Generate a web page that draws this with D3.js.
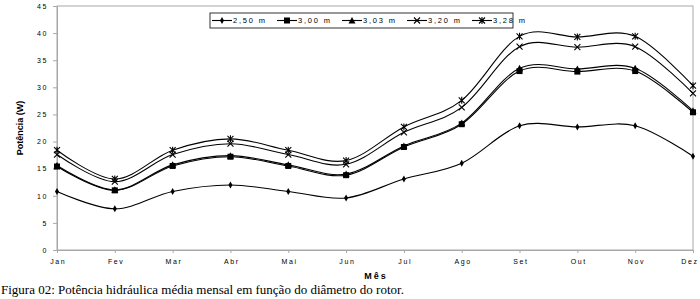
<!DOCTYPE html>
<html>
<head>
<meta charset="utf-8">
<script src="https://cdn.jsdelivr.net/npm/d3@7"></script>
<style>
  body { margin: 0; background: #fff; }
  svg { display: block; }
  .sans { font-family: "Liberation Sans", Arial, sans-serif; }
  .serif { font-family: "Liberation Serif", "Times New Roman", serif; }
</style>
</head>
<body>
<svg id="chart" width="700" height="299"></svg>
<script>
var months = ["Jan", "Fev", "Mar", "Abr", "Mai", "Jun", "Jul", "Ago", "Set", "Out", "Nov", "Dez"];
var seriesNames = ["2,50 m", "3,00 m", "3,03 m", "3,20 m", "3,28 m"];
var markers = ["diamond", "square", "triangle", "cross", "star"];

var d250 = [10.8, 7.6, 10.8, 12.0, 10.8, 9.6, 13.1, 16.0, 22.9, 22.7, 22.9, 17.3];
var d300 = [15.4, 11.0, 15.5, 17.2, 15.5, 13.8, 19.0, 23.2, 33.0, 32.9, 33.0, 25.4];
var d303 = [15.6, 11.1, 15.7, 17.4, 15.7, 14.0, 19.2, 23.4, 33.5, 33.4, 33.5, 25.7];
var d320 = [17.6, 12.6, 17.6, 19.6, 17.6, 15.8, 21.7, 26.3, 37.5, 37.4, 37.5, 28.9];
var d328 = [18.4, 13.1, 18.4, 20.5, 18.4, 16.5, 22.7, 27.6, 39.4, 39.3, 39.4, 30.3];
var yTicks = [0, 5, 10, 15, 20, 25, 30, 35, 40, 45];

var allSeries = [d250, d300, d303, d320, d328];

var margin = { top: 6, right: 7, bottom: 49, left: 57 },
    width = 700 - margin.left - margin.right,
    height = 299 - margin.top - margin.bottom;

var svg = d3.select("#chart");
var g = svg.append("g")
    .attr("transform", "translate(" + margin.left + "," + margin.top + ")");

var x = d3.scalePoint().domain(months).range([0, width]);
var y = d3.scaleLinear().domain([0, 45]).range([height, 0]);

// plot frame
g.append("rect")
    .attr("x", 0).attr("y", 0)
    .attr("width", width).attr("height", height)
    .attr("fill", "none")
    .attr("stroke", "#a8a8a8")
    .attr("stroke-width", 1);

// Y axis
var yAxis = g.append("g")
    .call(d3.axisLeft(y).tickValues(yTicks).tickSize(4).tickPadding(5).tickFormat(d3.format("d")));
yAxis.attr("font-family", null).attr("font-size", null);
yAxis.select(".domain").attr("stroke", "#a8a8a8");
yAxis.selectAll(".tick line").attr("stroke", "#a8a8a8");
yAxis.selectAll("text")
    .attr("class", "sans")
    .style("font-size", "7px")
    .style("letter-spacing", "1.6px")
    .attr("fill", "#000");

// X axis
var xAxis = g.append("g")
    .attr("transform", "translate(0," + height + ")")
    .call(d3.axisBottom(x).tickSize(3).tickPadding(6));
xAxis.attr("font-family", null).attr("font-size", null);
xAxis.select(".domain").attr("stroke", "#a8a8a8");
xAxis.selectAll(".tick line").attr("stroke", "#a8a8a8");
xAxis.selectAll("text")
    .attr("class", "sans")
    .attr("dx", "0.8px")
    .style("font-size", "7px")
    .style("letter-spacing", "1.6px")
    .attr("fill", "#000");
// last label kept inside the picture
xAxis.selectAll(".tick").filter(function (d) { return d === "Dez"; }).select("text")
    .attr("text-anchor", "end")
    .attr("dx", "5px");

// axis titles
svg.append("text")
    .attr("class", "sans")
    .attr("transform", "translate(23," + (margin.top + height / 2) + ") rotate(-90)")
    .attr("text-anchor", "middle")
    .style("font-size", "9px")
    .style("font-weight", "bold")
    .text("Potência (W)");

svg.append("text")
    .attr("class", "sans")
    .attr("x", 376).attr("y", 279)
    .attr("text-anchor", "middle")
    .style("font-size", "9px")
    .style("font-weight", "bold")
    .style("letter-spacing", "2px")
    .text("Mês");

// caption
svg.append("text")
    .attr("class", "serif")
    .attr("x", 1).attr("y", 294)
    .style("font-size", "13px")
    .text("Figura 02: Potência hidráulica média mensal em função do diâmetro do rotor.");

function drawMarker(sel, type) {
  if (type === "diamond") {
    sel.append("path").attr("d", d3.symbol(d3.symbolDiamond, 14)()).attr("fill", "#000");
  } else if (type === "square") {
    sel.append("rect").attr("x", -3).attr("y", -3).attr("width", 6).attr("height", 6).attr("fill", "#000");
  } else if (type === "triangle") {
    sel.append("path").attr("d", "M0,-3.5L3.5,3L-3.5,3Z").attr("fill", "#000");
  } else if (type === "cross") {
    sel.append("path").attr("d", "M-3,-3L3,3M-3,3L3,-3").attr("stroke", "#000").attr("stroke-width", 1.1);
  } else {
    sel.append("path").attr("d", "M-3,-3L3,3M-3,3L3,-3M0,-3.5L0,3.5").attr("stroke", "#000").attr("stroke-width", 1.1);
  }
}

var line = d3.line()
    .x(function (d, i) { return x(months[i]); })
    .y(function (d) { return y(d); })
    .curve(d3.curveCardinal.tension(0));

allSeries.forEach(function (s, k) {
  g.append("path")
      .datum(s)
      .attr("d", line)
      .attr("fill", "none")
      .attr("stroke", "#000")
      .attr("stroke-width", 1.1);
  s.forEach(function (v, i) {
    var m = g.append("g").attr("transform", "translate(" + x(months[i]) + "," + y(v) + ")");
    drawMarker(m, markers[k]);
  });
});

// legend
var legend = svg.append("g").attr("transform", "translate(210,13)");
legend.append("rect")
    .attr("width", 303).attr("height", 15)
    .attr("fill", "#fff")
    .attr("stroke", "#000")
    .attr("stroke-width", 0.8);
seriesNames.forEach(function (name, k) {
  var item = legend.append("g").attr("transform", "translate(" + (12 + k * 65) + ",7.5)");
  item.append("line").attr("x1", -10).attr("x2", 10).attr("stroke", "#000").attr("stroke-width", 1.1);
  drawMarker(item, markers[k]);
  item.append("text")
      .attr("class", "sans")
      .attr("x", 11).attr("y", 2.8)
      .style("font-size", "7.5px")
      .style("letter-spacing", "1.8px")
      .text(name);
});
</script>
</body>
</html>
